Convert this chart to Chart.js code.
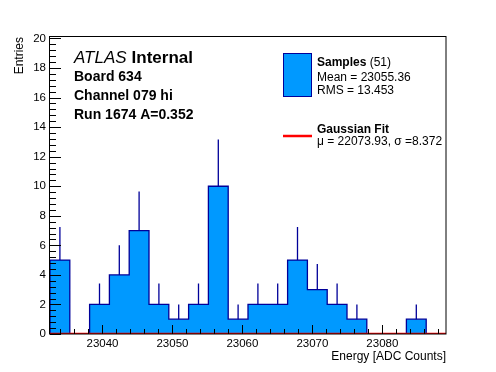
<!DOCTYPE html>
<html>
<head>
<meta charset="utf-8">
<script src="https://cdn.jsdelivr.net/npm/chart.js@4.4.1/dist/chart.umd.min.js"></script>
<style>
  body { margin: 0; background: #fff; }
  canvas { display: block; }
</style>
</head>
<body>
<canvas id="hist" width="496" height="372"></canvas>
<script>
// histogram definition (20 bins)
const binLow = 23032.5;
const binWidth = 2.83;
const counts = [5, 0, 2, 4, 7, 2, 1, 2, 10, 1, 2, 2, 5, 3, 2, 1, 0, 0, 1, 0];

// gaussian fit curve (mu far outside the range, so it sits on zero)
const fitX = [23032.5, 23089.1];
const fitY = [0, 0];

// text
const atlasLines = ['Board 634', 'Channel 079 hi', 'Run 1674 A=0.352'];
const statsLines = ['Mean = 23055.36', 'RMS = 13.453'];
const fitText = '\u03bc = 22073.93, \u03c3 =8.372';

const FILL = 'rgb(0,153,255)';
const NAVY = 'rgb(0,0,153)';
const FONT = '"Liberation Sans", Arial, Helvetica, sans-serif';

const binHigh = binLow + counts.length * binWidth;

// step outline of the histogram
const histPoints = [{ x: binLow, y: 0 }];
counts.forEach((n, i) => histPoints.push({ x: binLow + i * binWidth, y: n }));
histPoints.push({ x: binHigh, y: counts[counts.length - 1] });
histPoints.push({ x: binHigh, y: 0 });

// upper error bars, sqrt(n)
const errPoints = [];
counts.forEach((n, i) => {
  if (n <= 0) return;
  const c = binLow + (i + 0.5) * binWidth;
  errPoints.push({ x: c, y: n }, { x: c, y: n + Math.sqrt(n) }, { x: c, y: null });
});

const isMajorX = (v) => Math.abs(v / 10 - Math.round(v / 10)) < 1e-6;
const isMajorY = (v) => Math.abs(v / 2 - Math.round(v / 2)) < 1e-6;

// ROOT style frame with inward ticks, drawn over the histogram
const framePlugin = {
  id: 'frame',
  afterDatasetsDraw(chart) {
    const { ctx, chartArea: a, scales } = chart;
    ctx.save();
    ctx.strokeStyle = '#000';
    ctx.lineWidth = 1;
    ctx.beginPath();
    scales.x.ticks.forEach((t) => {
      const px = Math.round(scales.x.getPixelForValue(t.value)) + 0.5;
      const len = isMajorX(t.value) ? 9 : 5;
      ctx.moveTo(px, a.bottom);
      ctx.lineTo(px, a.bottom - len);
    });
    scales.y.ticks.forEach((t) => {
      const py = Math.round(scales.y.getPixelForValue(t.value)) + 0.5;
      const len = isMajorY(t.value) ? 11 : 6;
      ctx.moveTo(a.left, py);
      ctx.lineTo(a.left + len, py);
    });
    ctx.stroke();
    ctx.strokeRect(a.left - 0.5, a.top - 0.5, a.right - a.left + 0.5, a.bottom - a.top + 0.5);
    ctx.restore();
  },
  afterDraw(chart) {
    const { ctx } = chart;
    ctx.save();
    ctx.fillStyle = '#000';
    ctx.textBaseline = 'alphabetic';

    // ATLAS label block
    ctx.font = 'italic 17px ' + FONT;
    ctx.fillText('ATLAS', 74, 63);
    const w = ctx.measureText('ATLAS').width;
    ctx.font = 'bold 17px ' + FONT;
    ctx.fillText('Internal', 74 + w + 5, 63);
    ctx.font = 'bold 14px ' + FONT;
    atlasLines.forEach((s, i) => ctx.fillText(s, 74, 81 + i * 19));

    // legend: samples
    ctx.fillStyle = FILL;
    ctx.fillRect(283.5, 53.5, 28, 43);
    ctx.strokeStyle = NAVY;
    ctx.lineWidth = 1;
    ctx.strokeRect(283.5, 53.5, 28, 43);
    ctx.fillStyle = '#000';
    ctx.font = 'bold 12px ' + FONT;
    ctx.fillText('Samples', 317, 66);
    const sw = ctx.measureText('Samples ').width;
    ctx.font = '12px ' + FONT;
    ctx.fillText('(51)', 317 + sw, 66);
    statsLines.forEach((s, i) => ctx.fillText(s, 317, 80.5 + i * 13.5));

    // legend: fit
    ctx.strokeStyle = 'rgb(255,0,0)';
    ctx.lineWidth = 2.5;
    ctx.beginPath();
    ctx.moveTo(283, 136);
    ctx.lineTo(312, 136);
    ctx.stroke();
    ctx.font = 'bold 12px ' + FONT;
    ctx.fillText('Gaussian Fit', 317, 133);
    ctx.font = '12px ' + FONT;
    ctx.fillText(fitText, 317, 144.5);
    ctx.restore();
  }
};

new Chart(document.getElementById('hist'), {
  type: 'line',
  data: {
    datasets: [
      {
        label: 'Gaussian Fit',
        data: fitX.map((x, i) => ({ x, y: fitY[i] })),
        borderColor: 'rgb(255,0,0)',
        borderWidth: 2.5,
        pointRadius: 0,
        fill: false
      },
      {
        label: 'errors',
        data: errPoints,
        borderColor: NAVY,
        borderWidth: 1.3,
        pointRadius: 0,
        spanGaps: false,
        fill: false
      },
      {
        label: 'Samples',
        data: histPoints,
        stepped: true,
        borderColor: NAVY,
        borderWidth: 1.3,
        backgroundColor: FILL,
        pointRadius: 0,
        fill: 'origin'
      }
    ]
  },
  options: {
    responsive: false,
    animation: false,
    events: [],
    layout: { padding: { top: 37, right: 50, left: 0, bottom: 0 } },
    plugins: {
      legend: { display: false },
      tooltip: { enabled: false }
    },
    scales: {
      x: {
        type: 'linear',
        min: binLow,
        max: binHigh,
        afterFit: (s) => { s.height = 38; },
        grid: { display: false, drawTicks: false },
        border: { display: false },
        ticks: {
          stepSize: 2,
          includeBounds: false,
          autoSkip: false,
          maxRotation: 0,
          padding: 3,
          color: '#000',
          font: { family: FONT, size: 11.5 },
          callback: (v) => (isMajorX(v) ? String(Math.round(v)) : '')
        },
        title: {
          display: true,
          text: 'Energy [ADC Counts]',
          align: 'end',
          color: '#000',
          font: { family: FONT, size: 12 },
          padding: { top: 0, bottom: 8 }
        }
      },
      y: {
        min: 0,
        max: 20.1,
        afterFit: (s) => { s.width = 50; },
        grid: { display: false, drawTicks: false },
        border: { display: false },
        ticks: {
          stepSize: 0.4,
          includeBounds: false,
          autoSkip: false,
          padding: 4,
          color: '#000',
          font: { family: FONT, size: 11.5 },
          callback: (v) => (isMajorY(v) ? String(Math.round(v)) : '')
        },
        title: {
          display: true,
          text: 'Entries',
          align: 'end',
          color: '#000',
          font: { family: FONT, size: 12 },
          padding: { top: 12, bottom: 0 }
        }
      }
    }
  },
  plugins: [framePlugin]
});
</script>
</body>
</html>
